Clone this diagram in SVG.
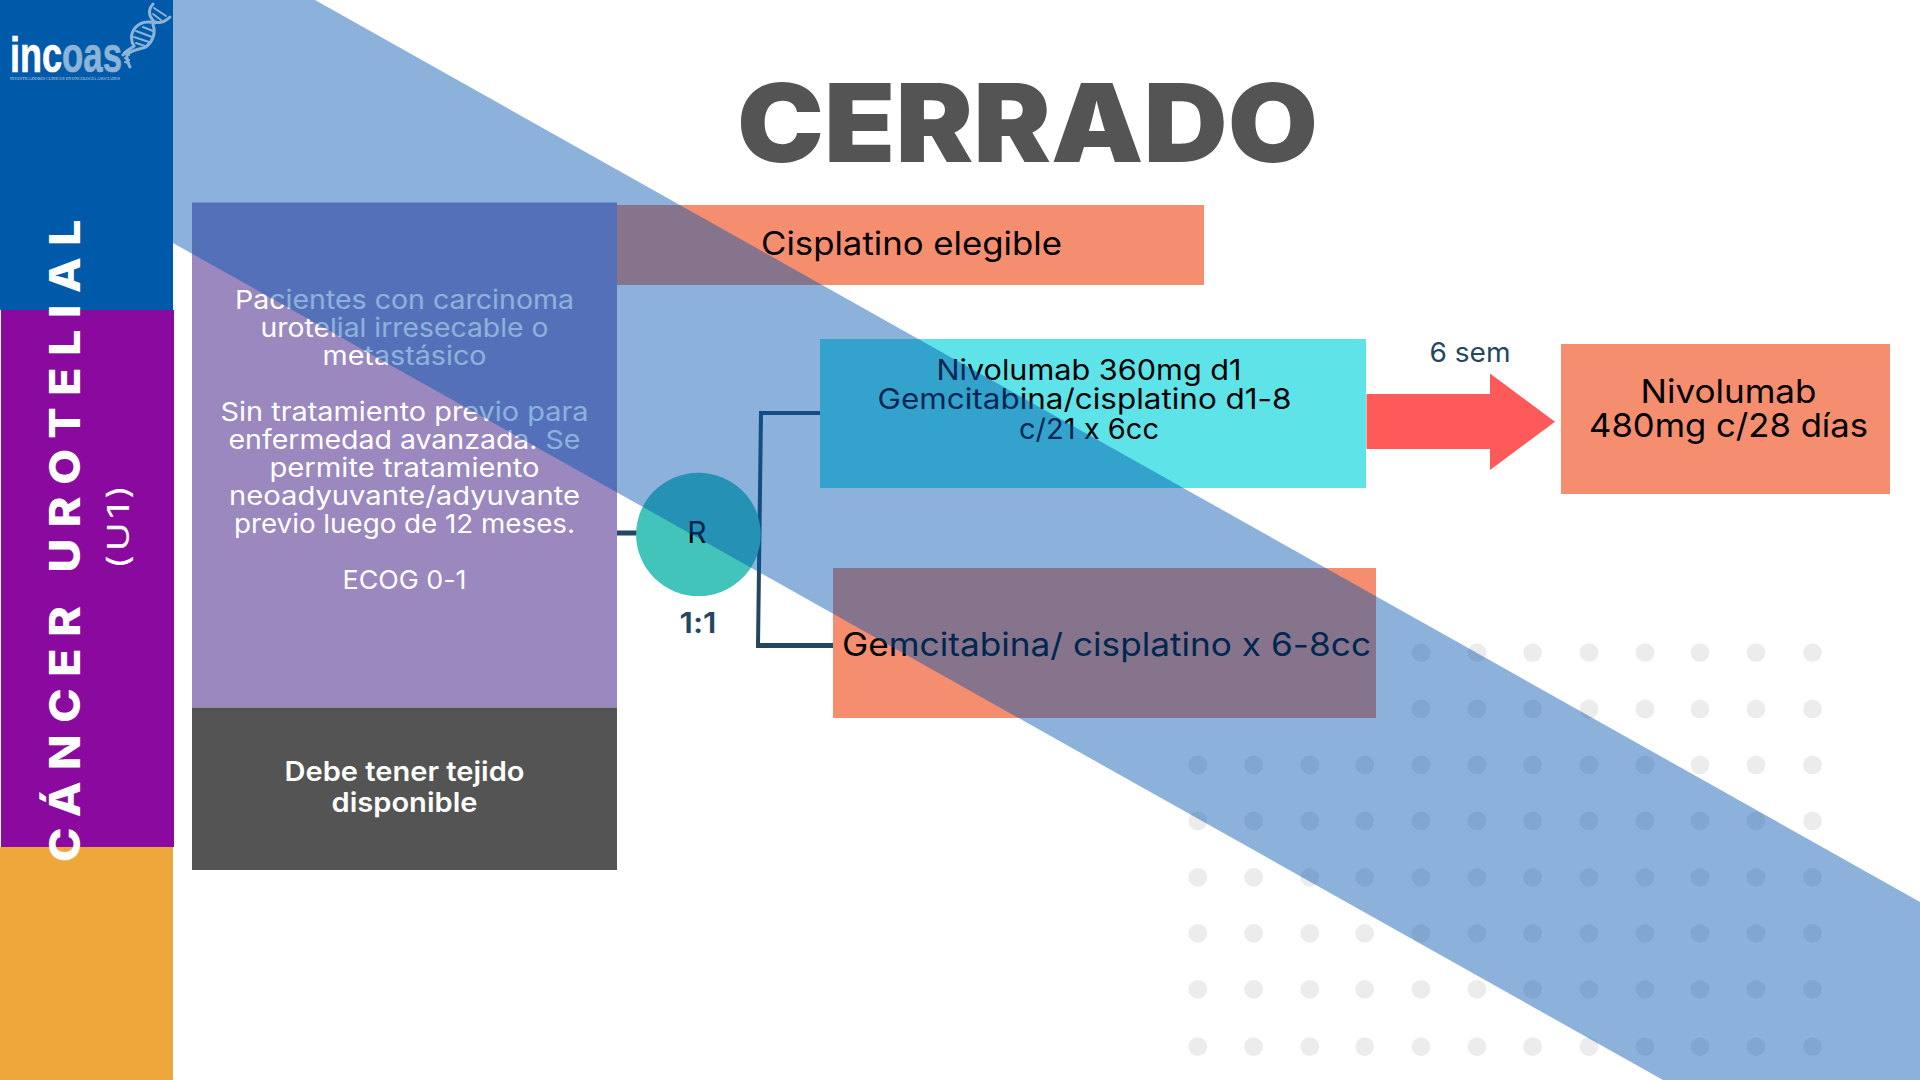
<svg xmlns="http://www.w3.org/2000/svg" xmlns:xlink="http://www.w3.org/1999/xlink" width="1920" height="1080" viewBox="0 0 1920 1080">
<style>
text{font-feature-settings:"calt" 0,"liga" 0}
.p{font-family:"Inter","Noto Sans","Liberation Sans",sans-serif;font-weight:400}
.w{fill:#fff;font-size:26px;text-anchor:middle}
.k{fill:#000;font-size:32px}
.dot{fill:#ececec}
.c{fill:none;stroke:#234760}
</style>
<defs>
<g id="r4" class="dot"><circle cx="1197.8" r="9.4"/><circle cx="1253.6" r="9.4"/><circle cx="1309.8" r="9.4"/><circle cx="1364.7" r="9.4"/></g>
<g id="r8" class="dot"><circle cx="1421" r="9.4"/><circle cx="1477" r="9.4"/><circle cx="1532.6" r="9.4"/><circle cx="1589" r="9.4"/><circle cx="1645" r="9.4"/><circle cx="1700" r="9.4"/><circle cx="1756" r="9.4"/><circle cx="1812.5" r="9.4"/></g>
</defs>
<rect width="1920" height="1080" fill="#fff"/>
<g id="dots">
<use href="#r8" y="652.7"/><use href="#r8" y="709"/>
<use href="#r4" y="765"/><use href="#r8" y="765"/>
<use href="#r4" y="821"/><use href="#r8" y="821"/>
<use href="#r4" y="877.3"/><use href="#r8" y="877.3"/>
<use href="#r4" y="933.3"/><use href="#r8" y="933.3"/>
<use href="#r4" y="989.3"/><use href="#r8" y="989.3"/>
<use href="#r4" y="1046.7"/><use href="#r8" y="1046.7"/>
</g>
<g id="connectors">
<path class="c" stroke-width="5" d="M617 533H640"/>
<path class="c" stroke-width="4" d="M820 413H761L758 645.5"/>
<path class="c" stroke-width="5" d="M756 645.5H833"/>
</g>
<g id="pacientes"><rect x="192" y="202.5" width="425" height="505" fill="#9a88bf"/>
<g class="p w">
<text x="404.5" y="309" textLength="339" lengthAdjust="spacingAndGlyphs">Pacientes con carcinoma</text>
<text x="404.5" y="337" textLength="288" lengthAdjust="spacingAndGlyphs">urotelial irresecable o</text>
<text x="404.5" y="365" textLength="164" lengthAdjust="spacingAndGlyphs">metastásico</text>
<text x="404.5" y="421" textLength="368" lengthAdjust="spacingAndGlyphs">Sin tratamiento previo para</text>
<text x="404.5" y="449" textLength="352" lengthAdjust="spacingAndGlyphs">enfermedad avanzada. Se</text>
<text x="404.5" y="477" textLength="270" lengthAdjust="spacingAndGlyphs">permite tratamiento</text>
<text x="404.5" y="505" textLength="351" lengthAdjust="spacingAndGlyphs">neoadyuvante/adyuvante</text>
<text x="404.5" y="533" textLength="341" lengthAdjust="spacingAndGlyphs">previo luego de 12 meses.</text>
<text x="404.5" y="589" textLength="124" lengthAdjust="spacingAndGlyphs">ECOG 0-1</text>
</g></g>
<g id="tejido"><rect x="192" y="707.5" width="425" height="162.5" fill="#545454"/>
<g class="p w" style="font-weight:600;font-size:27px">
<text x="404.5" y="781" textLength="240" lengthAdjust="spacingAndGlyphs">Debe tener tejido</text>
<text x="404.5" y="812" textLength="146" lengthAdjust="spacingAndGlyphs">disponible</text>
</g></g>
<g id="cisplatino"><rect x="617" y="205" width="587" height="80" fill="#f58d6f"/>
<text class="p k" x="761" y="254.5" textLength="301" lengthAdjust="spacingAndGlyphs">Cisplatino elegible</text></g>
<g id="nivo-gem"><rect x="820" y="339" width="546" height="149" fill="#5de3e8"/>
<g class="p k" style="font-size:28px">
<text x="936.5" y="379.5" textLength="305" lengthAdjust="spacingAndGlyphs">Nivolumab 360mg d1</text>
<text x="877.5" y="409" textLength="414" lengthAdjust="spacingAndGlyphs">Gemcitabina/cisplatino d1-8</text>
<text x="1019" y="439" textLength="140" lengthAdjust="spacingAndGlyphs">c/21 x 6cc</text>
</g></g>
<g id="gem"><rect x="833" y="568" width="543" height="150" fill="#f58d6f"/>
<text class="p k" x="842" y="655.5" textLength="529" lengthAdjust="spacingAndGlyphs">Gemcitabina/ cisplatino x 6-8cc</text></g>
<g id="rand"><ellipse cx="698.4" cy="534.4" rx="62.3" ry="61.7" fill="#43c4ba"/>
<text class="p" x="697" y="543" font-size="30" text-anchor="middle" fill="#000">R</text>
<text class="p" x="698" y="633" font-size="29" style="font-weight:600" text-anchor="middle" fill="#234760" textLength="37" lengthAdjust="spacingAndGlyphs">1:1</text></g>
<g id="arrow"><polygon points="1366.5,394 1490,394 1490,373.5 1555,421.7 1490,470 1490,449 1366.5,449" fill="#ff5a5a"/>
<text class="p" x="1470" y="362" font-size="27" text-anchor="middle" fill="#234760" textLength="81" lengthAdjust="spacingAndGlyphs">6 sem</text></g>
<g id="nivo"><rect x="1561" y="344" width="329" height="150" fill="#f58d6f"/>
<g class="p k" style="font-size:33px">
<text x="1640.5" y="402.5" textLength="176" lengthAdjust="spacingAndGlyphs">Nivolumab</text>
<text x="1589" y="437" textLength="279" lengthAdjust="spacingAndGlyphs">480mg c/28 días</text>
</g></g>
<g id="title"><text x="737" y="162" font-family="Inter,'Noto Sans',sans-serif" font-weight="900" font-size="109" fill="#545454" textLength="581" lengthAdjust="spacingAndGlyphs">CERRADO</text></g>
<polygon id="band" points="173,0 315,0 1920,902 1920,1080 1663,1080 173,243" fill="#0054af" fill-opacity=".45"/>
<g id="column"><rect x="0" y="0" width="173" height="310" fill="#0059a9"/>
<rect x="0" y="847" width="173" height="233" fill="#efa73b"/>
<rect x="1" y="310" width="173" height="537" fill="#8a0a9f"/>
<text transform="translate(80,862) rotate(-90) scale(1.08,1)" font-family="Inter,'Noto Sans',sans-serif" font-weight="800" font-size="43" fill="#fff" textLength="595" lengthAdjust="spacing">CÁNCER UROTELIAL</text>
<text transform="translate(129,527) rotate(-90) scale(1.3,1)" font-family="Inter,'Noto Sans',sans-serif" font-size="30" fill="#fff" text-anchor="middle" textLength="65" lengthAdjust="spacing">(U1)</text>
</g>
<g id="logo">
<text x="10" y="72" font-family="'Liberation Sans',sans-serif" font-weight="700" font-size="50" fill="#fff" stroke="#fff" stroke-width=".7" textLength="52" lengthAdjust="spacingAndGlyphs">inc</text>
<text x="62" y="72" font-family="'Liberation Sans',sans-serif" font-weight="700" font-size="50" fill="#8cb4d8" stroke="#8cb4d8" stroke-width=".7" textLength="60" lengthAdjust="spacingAndGlyphs">oas</text>
<text x="10" y="80" font-family="'Liberation Serif',serif" font-size="4.6" fill="#cfdcec" textLength="110" lengthAdjust="spacingAndGlyphs">INVESTIGADORES CLÍNICOS EN ONCOLOGÍA ASOCIADOS</text>
<g fill="none" stroke="#8cb4d8" stroke-linecap="round"><path stroke-width="3" d="M153 4C149 8 148 14 152 19C155 24 163 24 170 17M155 23C148 21 140 22 135 28C130 34 131 42 134 46C131 49 126 50 123 55M153 25C156 32 153 41 147 46C142 50 133 48 127 55C126 59 128 63 130 67"/>
<path stroke-width="2" d="M154 8L166 16M153 14L161 20M143 27L153 31M136 31L152 37M134 37L149 42M136 43L145 46M127 53L129 55M125 58L129 60M125 62L129 63"/></g>
</g>
</svg>
